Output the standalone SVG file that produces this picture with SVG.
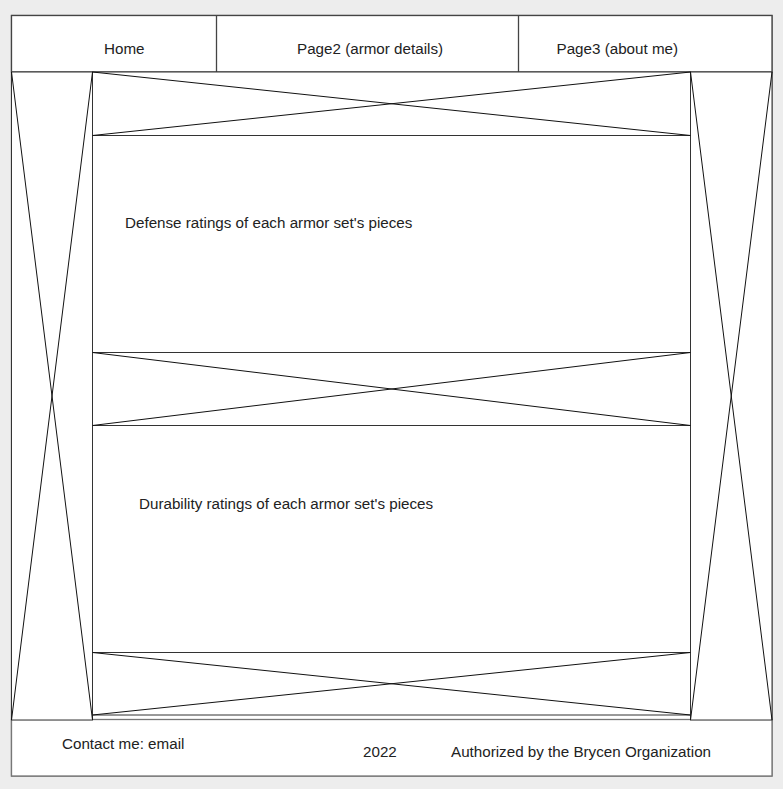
<svg xmlns="http://www.w3.org/2000/svg" width="783" height="789" viewBox="0 0 783 789">
<style>
.frame{fill:#fff;stroke:#666;stroke-width:1.3}
.hdr{fill:#fff;stroke:#444;stroke-width:1.3}
.box{fill:#fff;stroke:#333;stroke-width:1}
.x{stroke:#111;stroke-width:1;fill:none}
.ftr{fill:#fff;stroke:#777;stroke-width:1.3}
text{font-family:"Liberation Sans",Arial,sans-serif;font-size:15.2px;fill:#222}
</style>
<rect x="0" y="0" width="783" height="789" fill="#ededed"/>
<rect class="frame" x="11.5" y="15.5" width="760.5" height="760.5"/>
<g id="header">
<rect class="hdr" x="11.5" y="15.5" width="760.5" height="56.5"/>
<line class="hdr" x1="216.5" y1="15.5" x2="216.5" y2="72"/>
<line class="hdr" x1="518.5" y1="15.5" x2="518.5" y2="72"/>
<text x="104" y="54">Home</text>
<text x="297" y="54">Page2 (armor details)</text>
<text x="556.5" y="54">Page3 (about me)</text>
</g>
<g id="footer">
<rect class="ftr" x="11.5" y="719.5" width="760.5" height="56.5"/>
<text x="62" y="749">Contact me: email</text>
<text x="363" y="757">2022</text>
<text x="451" y="757">Authorized by the Brycen Organization</text>
</g>
<g id="left-column">
<rect class="box" x="11.5" y="72" width="81" height="648"/>
</g>
<g id="right-column">
<rect class="box" x="690.5" y="72" width="81.5" height="648"/>
</g>
<g id="box1"><rect class="box" x="92.5" y="72" width="598" height="63.5"/></g>
<g id="box2"><rect class="box" x="92.5" y="135.5" width="598" height="217"/>
<text x="125" y="228">Defense ratings of each armor set's pieces</text></g>
<g id="box3"><rect class="box" x="92.5" y="352.5" width="598" height="73"/></g>
<g id="box4"><rect class="box" x="92.5" y="425.5" width="598" height="227"/>
<text x="139" y="509">Durability ratings of each armor set's pieces</text></g>
<g id="box5"><rect class="box" x="92.5" y="652.5" width="598" height="62.5"/></g>
<g id="connectors">
<line class="x" x1="11.5" y1="72" x2="92.5" y2="720"/>
<line class="x" x1="92.5" y1="72" x2="11.5" y2="720"/>
<line class="x" x1="690.5" y1="72" x2="772" y2="720"/>
<line class="x" x1="772" y1="72" x2="690.5" y2="720"/>
<line class="x" x1="92.5" y1="72" x2="690.5" y2="135.5"/>
<line class="x" x1="690.5" y1="72" x2="92.5" y2="135.5"/>
<line class="x" x1="92.5" y1="352.5" x2="690.5" y2="425.5"/>
<line class="x" x1="690.5" y1="352.5" x2="92.5" y2="425.5"/>
<line class="x" x1="92.5" y1="652.5" x2="690.5" y2="715"/>
<line class="x" x1="690.5" y1="652.5" x2="92.5" y2="715"/>
</g>
</svg>
